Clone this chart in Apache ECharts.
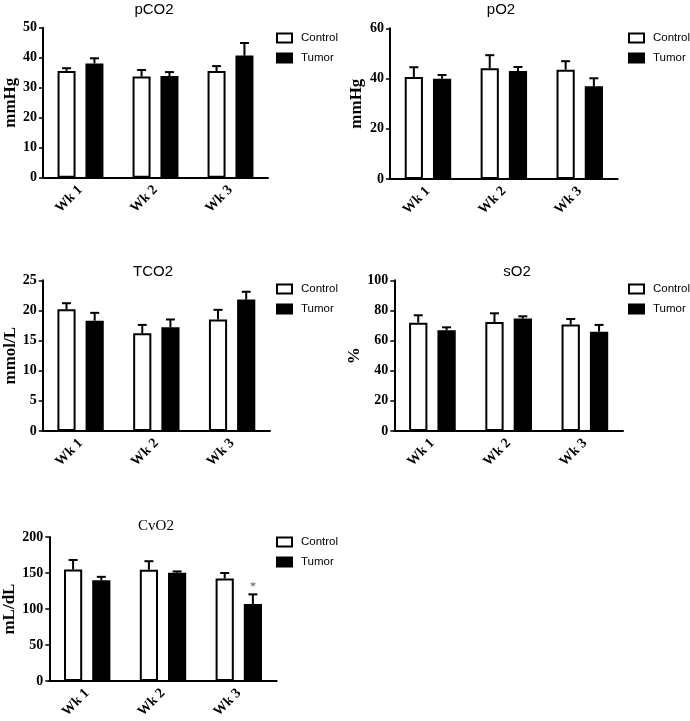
<!DOCTYPE html>
<html>
<head>
<meta charset="utf-8">
<script src="https://cdn.jsdelivr.net/npm/echarts@6/dist/echarts.min.js"></script>
<style>html,body{margin:0;padding:0;background:#fff;}#c{width:690px;height:721px;}</style>
</head>
<body>
<div id="c"></div>
<script>
const categories = ['Wk 1', 'Wk 2', 'Wk 3'];
const seriesNames = ['Control', 'Tumor'];

const panelTitles = ['pCO2', 'pO2', 'TCO2', 'sO2', 'CvO2'];
const yNames = ['mmHg', 'mmHg', 'mmol/L', '%', 'mL/dL'];
const yMax = [50, 60, 25, 100, 200];
const yInterval = [10, 20, 5, 20, 50];

const pco2Control = [35.6, 33.7, 35.6];
const pco2ControlErr = [0.9, 2.2, 1.6];
const pco2Tumor = [38.1, 33.9, 40.7];
const pco2TumorErr = [1.7, 1.3, 4.2];

const po2Control = [40.6, 44.1, 43.5];
const po2ControlErr = [3.9, 5.2, 3.4];
const po2Tumor = [39.9, 43.0, 36.9];
const po2TumorErr = [1.5, 1.6, 3.2];

const tco2Control = [20.2, 16.2, 18.5];
const tco2ControlErr = [1.0, 1.4, 1.6];
const tco2Tumor = [18.3, 17.2, 21.8];
const tco2TumorErr = [1.3, 1.3, 1.3];

const so2Control = [71.9, 72.3, 70.6];
const so2ControlErr = [4.9, 5.8, 3.7];
const so2Tumor = [66.8, 74.6, 65.9];
const so2TumorErr = [2.0, 1.5, 4.5];

const cvo2Control = [154.9, 154.4, 142.5];
const cvo2ControlErr = [13.2, 12.0, 7.5];
const cvo2Tumor = [139.8, 150.4, 107.1];
const cvo2TumorErr = [4.9, 1.8, 13.3];
const cvo2TumorSig = ['', '', '*'];

const noSig = ['', '', ''];

const panels = [
  {c: pco2Control, ce: pco2ControlErr, t: pco2Tumor, te: pco2TumorErr, sig: noSig},
  {c: po2Control, ce: po2ControlErr, t: po2Tumor, te: po2TumorErr, sig: noSig},
  {c: tco2Control, ce: tco2ControlErr, t: tco2Tumor, te: tco2TumorErr, sig: noSig},
  {c: so2Control, ce: so2ControlErr, t: so2Tumor, te: so2TumorErr, sig: noSig},
  {c: cvo2Control, ce: cvo2ControlErr, t: cvo2Tumor, te: cvo2TumorErr, sig: cvo2TumorSig}
];

// layout
const grids = [
  {left: 43, top: 27.7, width: 225, height: 150},
  {left: 390, top: 28.3, width: 227.7, height: 150.7},
  {left: 42.7, top: 280.3, width: 227.3, height: 150.7},
  {left: 394.3, top: 280.3, width: 228.7, height: 150.7},
  {left: 49.3, top: 537, width: 227.4, height: 150.7}
];
const titlePos = [[154, 2], [501, 2], [153, 264], [517, 264], [156, 519]];
const titleFont = ['Liberation Sans', 'Liberation Sans', 'Liberation Sans', 'Liberation Sans', 'Liberation Serif'];
const legendPos = [[276, 32], [628, 32], [276, 283], [628, 283], [276, 536]];
const nameGaps = [23, 25, 24, 30, 31];

const BAR_W = 0.24, BAR_GAP = 0.55;
const OFFSET = (1 + BAR_GAP) / 2 * BAR_W;

function errSeries(idx, means, errs, sign, sig) {
  return {
    type: 'custom',
    name: 'err' + idx + sign,
    xAxisIndex: idx, yAxisIndex: idx,
    z: 5,
    silent: true,
    data: means.map((m, i) => [i, m, m + errs[i], sig ? sig[i] : '']),
    renderItem: function (params, api) {
      const band = api.size([1, 0])[0];
      const p0 = api.coord([api.value(0), api.value(1)]);
      const p1 = api.coord([api.value(0), api.value(2)]);
      const x = p0[0] + sign * OFFSET * band;
      const cap = 4.5;
      const children = [
        {type: 'line', shape: {x1: x, y1: p0[1], x2: x, y2: p1[1]}, style: {stroke: '#000', lineWidth: 2}},
        {type: 'line', shape: {x1: x - cap, y1: p1[1], x2: x + cap, y2: p1[1]}, style: {stroke: '#000', lineWidth: 2}}
      ];
      const s = api.value(3);
      if (s) {
        children.push({type: 'text', x: x, y: p1[1] - 8, style: {text: s, fill: '#555', fontSize: 12, fontFamily: 'Liberation Serif', align: 'center', verticalAlign: 'middle'}});
      }
      return {type: 'group', children: children};
    }
  };
}

const option = {
  animation: false,
  backgroundColor: '#fff',
  title: panelTitles.map((t, i) => ({
    text: t, left: titlePos[i][0], top: titlePos[i][1], textAlign: 'center', padding: 0,
    textStyle: {fontFamily: titleFont[i], fontSize: 15, fontWeight: 'normal', color: '#000'}
  })),
  legend: legendPos.map((p, i) => ({
    data: seriesNames, orient: 'vertical', left: p[0], top: p[1], padding: 0,
    icon: 'rect', itemWidth: 15, itemHeight: 9, itemGap: 8,
    selectedMode: false,
    itemStyle: {borderColor: '#000', borderWidth: 2},
    textStyle: {fontFamily: 'Liberation Sans', fontSize: 11.5, color: '#000', padding: [0, 0, 0, 4], overflow: 'none'}
  })),
  grid: grids.map(g => Object.assign({containLabel: false}, g)),
  xAxis: grids.map((g, i) => ({
    type: 'category', gridIndex: i, data: categories,
    axisLine: {lineStyle: {color: '#000', width: 2}},
    axisTick: {alignWithLabel: true, length: 4, lineStyle: {color: '#000', width: 1.5}},
    axisLabel: {rotate: 45, margin: 10, color: '#000', fontFamily: 'Liberation Serif', fontWeight: 'bold', fontSize: 14},
    splitLine: {show: false}
  })),
  yAxis: grids.map((g, i) => ({
    type: 'value', gridIndex: i, min: 0, max: yMax[i], interval: yInterval[i],
    name: yNames[i], nameLocation: 'middle', nameGap: nameGaps[i], nameRotate: 90,
    nameTextStyle: {fontFamily: 'Liberation Serif', fontWeight: 'bold', fontSize: 17, color: '#000'},
    axisLine: {show: true, lineStyle: {color: '#000', width: 2}},
    axisTick: {show: true, length: 4, lineStyle: {color: '#000', width: 1.5}},
    axisLabel: {margin: 6, color: '#000', fontFamily: 'Liberation Serif', fontWeight: 'bold', fontSize: 14},
    splitLine: {show: false}
  })),
  series: []
};

panels.forEach((p, i) => {
  option.series.push({
    type: 'bar', name: 'Control', xAxisIndex: i, yAxisIndex: i, data: p.c,
    barWidth: (BAR_W * 100) + '%', barGap: (BAR_GAP * 100) + '%',
    itemStyle: {color: '#fff', borderColor: '#000', borderWidth: 2}
  });
  option.series.push({
    type: 'bar', name: 'Tumor', xAxisIndex: i, yAxisIndex: i, data: p.t,
    barWidth: (BAR_W * 100) + '%', barGap: (BAR_GAP * 100) + '%',
    itemStyle: {color: '#000', borderColor: '#000', borderWidth: 2}
  });
  option.series.push(errSeries(i, p.c, p.ce, -1, null));
  option.series.push(errSeries(i, p.t, p.te, 1, p.sig));
});

const chart = echarts.init(document.getElementById('c'), null, {renderer: 'canvas'});
chart.setOption(option);
</script>
</body>
</html>
